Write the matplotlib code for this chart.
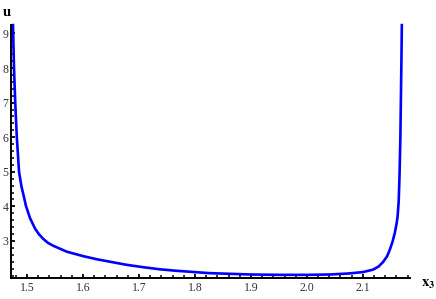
import matplotlib
matplotlib.use("Agg")
import matplotlib.pyplot as plt
from matplotlib.ticker import MultipleLocator, FormatStrFormatter

# Data
x3 = [1.4750, 1.4768, 1.4790, 1.4818, 1.4858, 1.4900, 1.4946, 1.4980, 1.5054,
      1.5143, 1.5210, 1.5290, 1.5370, 1.5470, 1.5710, 1.6005, 1.6250, 1.6480, 1.6780,
      1.7080, 1.7375, 1.7650, 1.7910, 1.8250, 1.8625, 1.9000, 1.9520, 2.0000,
      2.0410, 2.0750, 2.1000, 2.1180, 2.1280, 2.1360, 2.1430, 2.1480, 2.1530,
      2.1570, 2.1600, 2.1620, 2.1640, 2.1655, 2.1670, 2.1680, 2.1690, 2.1696]
u = [9.24, 8.00, 7.00, 6.00, 5.00, 4.58, 4.27, 4.02, 3.66,
     3.36, 3.20, 3.06, 2.95, 2.86, 2.69, 2.56, 2.47, 2.40, 2.31,
     2.24, 2.18, 2.14, 2.11, 2.07, 2.05, 2.03, 2.02, 2.02,
     2.03, 2.06, 2.10, 2.17, 2.26, 2.39, 2.55, 2.74, 2.98,
     3.23, 3.48, 3.70, 4.15, 4.90, 6.00, 7.20, 8.40, 9.24]

xticks = [1.5, 1.6, 1.7, 1.8, 1.9, 2.0, 2.1]
yticks = [3, 4, 5, 6, 7, 8, 9]

fig = plt.figure(figsize=(4.36, 2.99), dpi=100)
ax = fig.add_axes([0.0252, 0.0692, 0.9148, 0.8468])
ax.plot(x3, u, color=(0, 0, 1), lw=1.9, solid_joinstyle='round', clip_on=False)

ax.set_xlim(1.4714, 2.1839)
ax.set_ylim(1.92, 9.24)
for s in ['top', 'right']:
    ax.spines[s].set_visible(False)
for s in ['left', 'bottom']:
    ax.spines[s].set_linewidth(1.4)
    ax.spines[s].set_color('black')

ax.set_xticks(xticks)
ax.set_yticks(yticks)
ax.xaxis.set_major_formatter(FormatStrFormatter('%.1f'))
ax.yaxis.set_major_formatter(FormatStrFormatter('%d'))
ax.xaxis.set_minor_locator(MultipleLocator(0.02))
ax.yaxis.set_minor_locator(MultipleLocator(0.2))
ax.tick_params(which='major', direction='in', length=3.2, width=1.3,
               labelsize=8.5, pad=3, colors='black')
ax.tick_params(which='minor', direction='in', length=2.0, width=1.1)
ax.tick_params(axis='y', which='major', pad=2)
for lab in ax.get_xticklabels() + ax.get_yticklabels():
    lab.set_family('Liberation Serif')
    lab.set_color('#333333')

fig.text(0.007, 0.958, 'u', fontsize=10.5, fontweight='bold',
         family='Liberation Serif', va='center', ha='left')
fig.text(0.965, 0.052, r'$\mathbf{x_3}$', fontsize=10.5,
         va='center', ha='left', math_fontfamily='stix')

fig.savefig('out.png', dpi=100)
